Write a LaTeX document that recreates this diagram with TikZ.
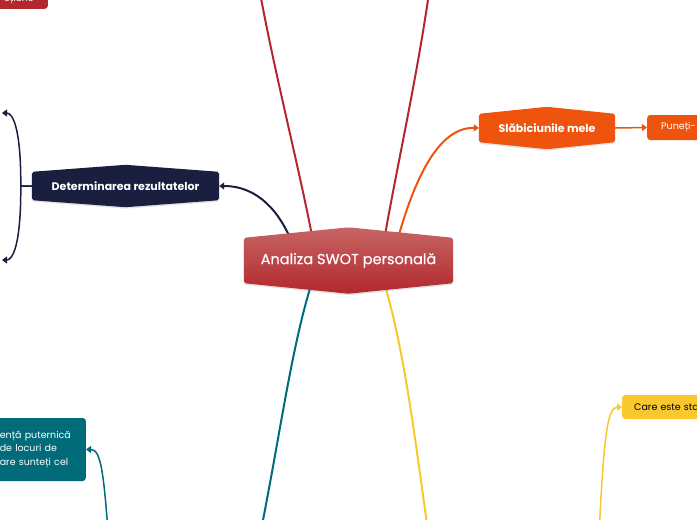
\documentclass[tikz,border=0pt]{standalone}
\usepackage{fontspec}
\setmainfont{Poppins}
\definecolor{SwotRed}{HTML}{B3282D}
\definecolor{SwotRedTop}{HTML}{C66464}
\definecolor{SwotNavy}{HTML}{1A1F3F}
\definecolor{SwotOrange}{HTML}{EE540E}
\definecolor{SwotTeal}{HTML}{016B79}
\definecolor{SwotYellow}{HTML}{F8C82E}
\usetikzlibrary{positioning,arrows.meta,calc,backgrounds,shadows}

\newcommand{\hexoutline}[2]{(#1.north west) -- ($(#1.north)+(0,-#2)$) -- (#1.north east) -- (#1.south east) -- ($(#1.south)+(0,#2)$) -- (#1.south west) -- cycle}

\tikzset{
  hextext/.style={text=white, font=\bfseries\fontsize{11}{13}\selectfont, inner sep=0pt},
  leaf/.style={rounded corners=3pt, font=\fontsize{9.5}{13.5}\selectfont, inner xsep=14pt, inner ysep=0pt, text width=90pt, align=left},
  link/.style={draw=#1, line width=2pt},
  twig/.style={draw=#1, line width=1.5pt},
  tip/.style={-{Triangle[width=7pt,length=5pt]}},
  hexshadow/.style={drop shadow={opacity=0.22, shadow xshift=0pt, shadow yshift=-1.5pt}},
}

\begin{document}
\begin{tikzpicture}[x=1pt, y=-1pt]
  \useasboundingbox (0,0) rectangle (697,520);

  % main topic and branches
  \node[hextext, font=\addfontfeature{FakeBold=0.4}\fontsize{14.5}{16}\selectfont, minimum width=209pt, minimum height=45pt] (swot) at (348.5,260.5) {Analiza SWOT personală};
  \node[hextext, minimum width=187pt, minimum height=28pt] (det) at (125.5,186) {Determinarea rezultatelor};
  \node[hextext, minimum width=136pt, minimum height=28pt] (weak) at (547,128) {Slăbiciunile mele};

  % leaves cut by the page edge
  \node[leaf, fill=SwotOrange, text=white, anchor=west, minimum height=25pt] (pune) at (647,127.5) {Puneți-};
  \node[leaf, fill=SwotYellow, text=black, anchor=west, inner xsep=12pt, minimum height=24pt] (care) at (622,407) {Care este sta};
  \node[leaf, fill=SwotTeal, text=white, anchor=east, text width=72pt, minimum height=63pt] (strong) at (86,449.5) {ență puternică\\de locuri de\\are sunteți cel};
  \node[leaf, fill=SwotRed, text=white, anchor=south east, text width=50pt, align=right, minimum height=20pt] (topleaf) at (48,9) {ețiune};

  \coordinate (resA) at (2,113);
  \coordinate (resB) at (2,260);
  \coordinate (upL) at (256,-30);
  \coordinate (upR) at (432,-30);
  \coordinate (downL) at (255,560);
  \coordinate (downR) at (432,560);
  \coordinate (strongUp) at (110,560);
  \coordinate (careUp) at (598,560);

  \begin{scope}[on background layer]
    % connectors
    \draw[link=SwotRed] ($(swot.north)+(-35,6)$) .. controls (300,170) and (271,60) .. (upL);
    \draw[link=SwotRed] ($(swot.north)+(35,6)$) .. controls (396,170) and (421,60) .. (upR);
    \draw[link=SwotNavy, tip] ($(swot.north)+(-56,6)$) .. controls (280,212) and (258,186) .. (det.east);
    \draw[link=SwotOrange, tip] ($(swot.north)+(48,6)$) .. controls (415,175) and (440,127) .. (weak.west);
    \draw[link=SwotTeal] ($(swot.south)+(-35,-6)$) .. controls (290,350) and (280,440) .. (downL);
    \draw[link=SwotYellow] ($(swot.south)+(34,-6)$) .. controls (405,350) and (415,440) .. (downR);
    \draw[twig=SwotNavy, tip] (det.west) -- ++(-11,0) .. controls (21,125) and (12,113) .. (resA);
    \draw[twig=SwotNavy, tip] (det.west) -- ++(-11,0) .. controls (21,248) and (12,260) .. (resB);
    \draw[twig=SwotOrange, tip] (weak.east) -- (pune.west);
    \draw[twig=SwotTeal, tip] (strongUp) .. controls (104,470) and (101,449.5) .. (strong.east);
    \draw[twig=SwotYellow, tip] (careUp) .. controls (603,440) and (607,407) .. (care.west);
    % hexagon bodies
    \shade[top color=SwotRedTop, bottom color=SwotRed, rounded corners=2pt, hexshadow] \hexoutline{swot}{10.5};
    \fill[SwotNavy, rounded corners=2pt, hexshadow] \hexoutline{det}{7};
    \fill[SwotOrange, rounded corners=2pt, hexshadow] \hexoutline{weak}{7};
  \end{scope}
\end{tikzpicture}
\end{document}
